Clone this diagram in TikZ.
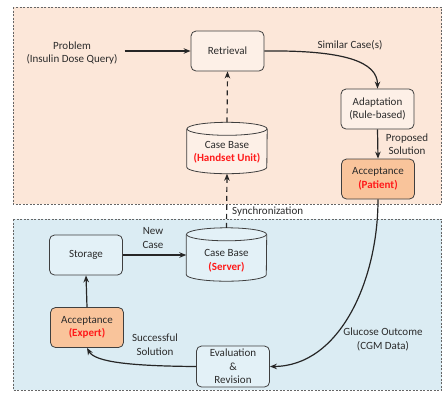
\documentclass[tikz,border=0pt]{standalone}
\usepackage{fontspec}
\setmainfont{Carlito}
\usetikzlibrary{arrows.meta}
\definecolor{peachbg}{HTML}{FCE7D9}
\definecolor{peachbox}{HTML}{FDF0E7}
\definecolor{bluebg}{HTML}{DBECF3}
\definecolor{bluebox}{HTML}{E3F1F7}
\definecolor{accfill}{HTML}{F9C49B}
\definecolor{edge}{HTML}{3F3F3F}
\definecolor{txt}{HTML}{2B2B2B}
\definecolor{hot}{HTML}{FF1A1A}
\tikzset{
  region/.style={draw=gray!80!black, line width=0.6pt, dash pattern=on 2pt off 1.5pt},
  stepbox/.style={draw=edge, line width=0.8pt, rounded corners=5pt, minimum width=73pt,
    minimum height=40pt, align=center, text=txt, inner sep=1pt},
  accbox/.style={stepbox, fill=accfill},
  cbase/.style={minimum width=80pt, minimum height=51pt, inner sep=0pt},
  lbl/.style={align=center, text=txt, inner sep=0pt},
  flow/.style={line width=1.2pt, draw=black!85, -{Stealth[length=7pt,width=5.5pt]}},
  sync/.style={flow, dash pattern=on 5pt off 4pt}
}
\newcommand{\cylbody}[3]{% node name, fill colour, ellipse half height
  \fill[#2] ([yshift=-#3pt]#1.north west) -- ([yshift=#3pt]#1.south west)
    arc[start angle=180, end angle=360, x radius=40pt, y radius=#3pt]
    -- ([yshift=-#3pt]#1.north east) -- cycle;
  \fill[#2] ([yshift=-#3pt]#1.north) ellipse[x radius=40pt, y radius=#3pt];
  \draw[edge, line width=0.8pt] ([yshift=-#3pt]#1.north west) -- ([yshift=#3pt]#1.south west)
    arc[start angle=180, end angle=360, x radius=40pt, y radius=#3pt]
    -- ([yshift=-#3pt]#1.north east);
  \draw[edge, line width=0.8pt] ([yshift=-#3pt]#1.north) ellipse[x radius=40pt, y radius=#3pt];
}
\begin{document}
\begin{tikzpicture}[x=1pt, y=-1pt, font=\fontsize{11}{13.5}\selectfont]
\useasboundingbox (0,0) rectangle (443,392);
\fill[white] (0,0) rectangle (443,392);

% two regions: handset (top) and server (bottom)
\fill[peachbg] (13,7) rectangle (441.5,204);
\draw[region] (13,7) rectangle (441.5,204);
\fill[bluebg] (13,219) rectangle (441.5,390);
\draw[region] (13,219) rectangle (441.5,390);

% handset side
\node[lbl] (problem) at (72,53) {Problem\\(Insulin Dose Query)};
\node[stepbox, fill=peachbox] (retr) at (227.5,51) {Retrieval};
\node[stepbox, fill=peachbox] (adapt) at (377.5,109) {Adaptation\\(Rule-based)};
\node[accbox] (accp) at (378,179) {Acceptance\\{\color{hot}\bfseries(Patient)}};
\node[cbase] (hs) at (227,148) {};
\cylbody{hs}{peachbox}{6.5}
\node[lbl] (hstxt) at (227,152.5) {Case Base\\{\color{hot}\bfseries(Handset Unit)}};

% server side
\node[stepbox, fill=bluebox] (store) at (86,255) {Storage};
\node[cbase, minimum height=53pt] (srv) at (226.5,254.5) {};
\cylbody{srv}{bluebox}{6.5}
\node[lbl] (srvtxt) at (226.5,261) {Case Base\\{\color{hot}\bfseries(Server)}};
\node[accbox] (acce) at (87,327.5) {Acceptance\\{\color{hot}\bfseries(Expert)}};
\node[stepbox, fill=bluebox, minimum height=41pt] (eval) at (233,366.5) {Evaluation\\\&\\Revision};

% connectors
\draw[flow, shorten <=7pt] (problem.east |- retr.west) -- (retr.west);
\draw[flow] (retr.east) .. controls (345,50) and (377.5,62) .. (adapt.north);
\draw[flow] (adapt.south) -- (accp.north);
\draw[flow] (accp.south) .. controls (378,280) and (340,366) .. (eval.east);
\draw[flow] (eval.west) .. controls (130,366) and (95,362) .. (acce.south);
\draw[flow] (acce.north) -- (store.south);
\draw[flow] (store.east) -- (store.east -| srv.west);
\draw[sync] (hs.north) -- (retr.south);
\draw[sync] (srv.north) -- (hs.south);

% connector labels
\node[lbl] (simlbl) at (350,45) {Similar Case(s)};
\node[lbl] (proplbl) at (407,144) {Proposed\\Solution};
\node[lbl, anchor=west] (synclbl) at (232,212) {Synchronization};
\node[lbl] (newlbl) at (153,238) {New\\Case};
\node[lbl] (succlbl) at (155,344.5) {Successful\\Solution};
\node[lbl] (glulbl) at (383,339.5) {Glucose Outcome\\(CGM Data)};
\end{tikzpicture}
\end{document}
